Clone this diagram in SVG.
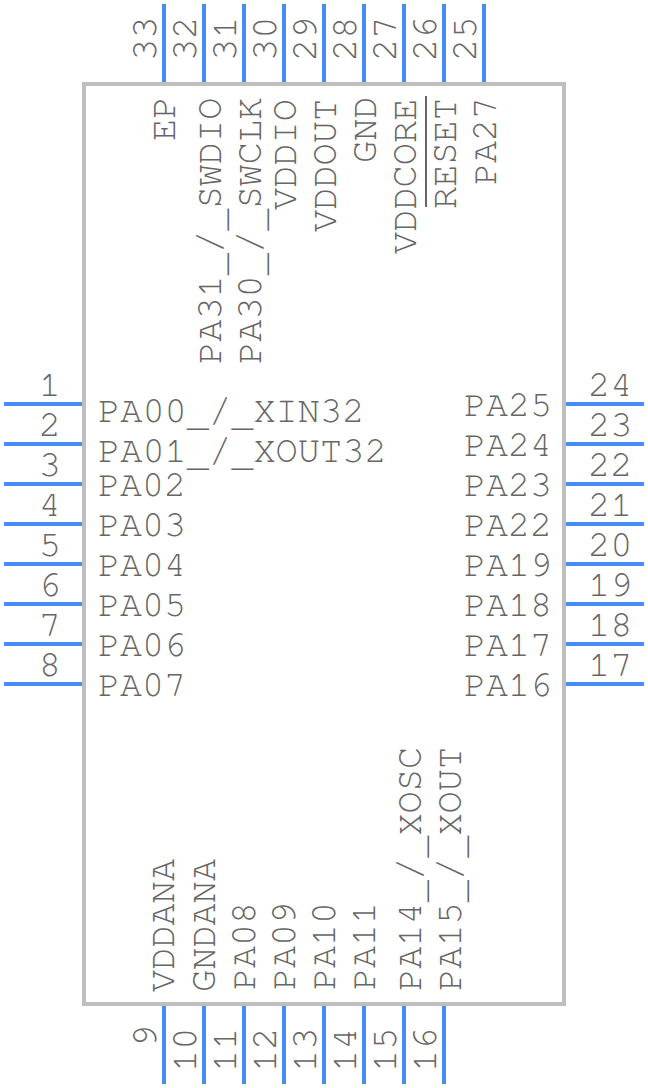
<svg xmlns="http://www.w3.org/2000/svg" width="648" height="1088" viewBox="0 0 648 1088">
<style>
text{font-family:"FreeMono","Liberation Mono",monospace;fill:#666;font-size:37px}
text.s{font-size:36.67px}
.p{stroke:#478cf6;stroke-width:4;fill:none}
.b{fill:#fff;stroke:#bfbfbf;stroke-width:4}
.e{text-anchor:end}
</style>
<g id="body"><rect class="b" x="84" y="84" width="480" height="920"/></g>
<g id="connectors">
<path class="p" d="M4 404H82M4 444H82M4 484H82M4 524H82M4 564H82M4 604H82M4 644H82M4 684H82"/>
<path class="p" d="M566 404H644M566 444H644M566 484H644M566 524H644M566 564H644M566 604H644M566 644H644M566 684H644"/>
<path class="p" d="M164 4V82M204 4V82M244 4V82M284 4V82M324 4V82M364 4V82M404 4V82M444 4V82M484 4V82"/>
<path class="p" d="M164 1006V1084M204 1006V1084M244 1006V1084M284 1006V1084M324 1006V1084M364 1006V1084M404 1006V1084M444 1006V1084"/>
</g>
<g id="left">
<text x="98" y="422">PA00<tspan dy="4">_</tspan><tspan dy="-4">/</tspan><tspan dy="4">_</tspan><tspan dy="-4">XIN32</tspan></text><text x="98" y="462">PA01<tspan dy="4">_</tspan><tspan dy="-4">/</tspan><tspan dy="4">_</tspan><tspan dy="-4">XOUT32</tspan></text><text class="s" x="98" y="496">PA02</text><text class="s" x="98" y="536">PA03</text><text class="s" x="98" y="576">PA04</text><text class="s" x="98" y="616">PA05</text><text class="s" x="98" y="656">PA06</text><text class="s" x="98" y="696">PA07</text>
<text class="e" x="61" y="396">1</text><text class="e" x="61" y="436">2</text><text class="e" x="61" y="476">3</text><text class="e" x="61" y="516">4</text><text class="e" x="61" y="556">5</text><text class="e" x="61" y="596">6</text><text class="e" x="61" y="636">7</text><text class="e" x="61" y="676">8</text>
</g>
<g id="right">
<text class="e s" x="552" y="416">PA25</text><text class="e s" x="552" y="456">PA24</text><text class="e s" x="552" y="496">PA23</text><text class="e s" x="552" y="536">PA22</text><text class="e s" x="552" y="576">PA19</text><text class="e s" x="552" y="616">PA18</text><text class="e s" x="552" y="656">PA17</text><text class="e s" x="552" y="696">PA16</text>
<text x="588" y="396">24</text><text x="588" y="436">23</text><text x="588" y="476">22</text><text x="588" y="516">21</text><text x="588" y="556">20</text><text x="588" y="596">19</text><text x="588" y="636">18</text><text x="588" y="676">17</text>
</g>
<g id="top">
<text transform="translate(156,61) rotate(-90)">33</text><text transform="translate(196,61) rotate(-90)">32</text><text transform="translate(236,61) rotate(-90)">31</text><text transform="translate(276,61) rotate(-90)">30</text><text transform="translate(316,61) rotate(-90)">29</text><text transform="translate(356,61) rotate(-90)">28</text><text transform="translate(396,61) rotate(-90)">27</text><text transform="translate(436,61) rotate(-90)">26</text><text transform="translate(476,61) rotate(-90)">25</text>
<text transform="translate(175,141) rotate(-90)">EP</text>
<text transform="translate(221,364) rotate(-90)">PA31<tspan dy="4">_</tspan><tspan dy="-4">/</tspan><tspan dy="4">_</tspan><tspan dy="-4">SWDIO</tspan></text>
<text transform="translate(261,364) rotate(-90)">PA30<tspan dy="4">_</tspan><tspan dy="-4">/</tspan><tspan dy="4">_</tspan><tspan dy="-4">SWCLK</tspan></text>
<text transform="translate(296,210) rotate(-90)">VDDIO</text>
<text transform="translate(336,232) rotate(-90)">VDDOUT</text>
<text transform="translate(376,163) rotate(-90)">GND</text>
<text transform="translate(416,254) rotate(-90)">VDDCORE</text>
<text transform="translate(456,209) rotate(-90)">RESET</text>
<path d="M426 96V207" stroke="#666" stroke-width="2"/>
<text class="s" transform="translate(496,185) rotate(-90)">PA27</text>
</g>
<g id="bottom">
<text transform="translate(156,1047) rotate(-90)">9</text><text transform="translate(196,1072) rotate(-90)">10</text><text transform="translate(236,1072) rotate(-90)">11</text><text transform="translate(276,1072) rotate(-90)">12</text><text transform="translate(316,1072) rotate(-90)">13</text><text transform="translate(356,1072) rotate(-90)">14</text><text transform="translate(396,1072) rotate(-90)">15</text><text transform="translate(436,1072) rotate(-90)">16</text>
<text transform="translate(174,992) rotate(-90)">VDDANA</text><text transform="translate(215,992) rotate(-90)">GNDANA</text><text class="s" transform="translate(255,990) rotate(-90)">PA08</text><text class="s" transform="translate(295,990) rotate(-90)">PA09</text><text class="s" transform="translate(335,990) rotate(-90)">PA10</text><text class="s" transform="translate(375,990) rotate(-90)">PA11</text><text transform="translate(421,991) rotate(-90)">PA14<tspan dy="4">_</tspan><tspan dy="-4">/</tspan><tspan dy="4">_</tspan><tspan dy="-4">XOSC</tspan></text><text transform="translate(461,991) rotate(-90)">PA15<tspan dy="4">_</tspan><tspan dy="-4">/</tspan><tspan dy="4">_</tspan><tspan dy="-4">XOUT</tspan></text>
</g>
</svg>
